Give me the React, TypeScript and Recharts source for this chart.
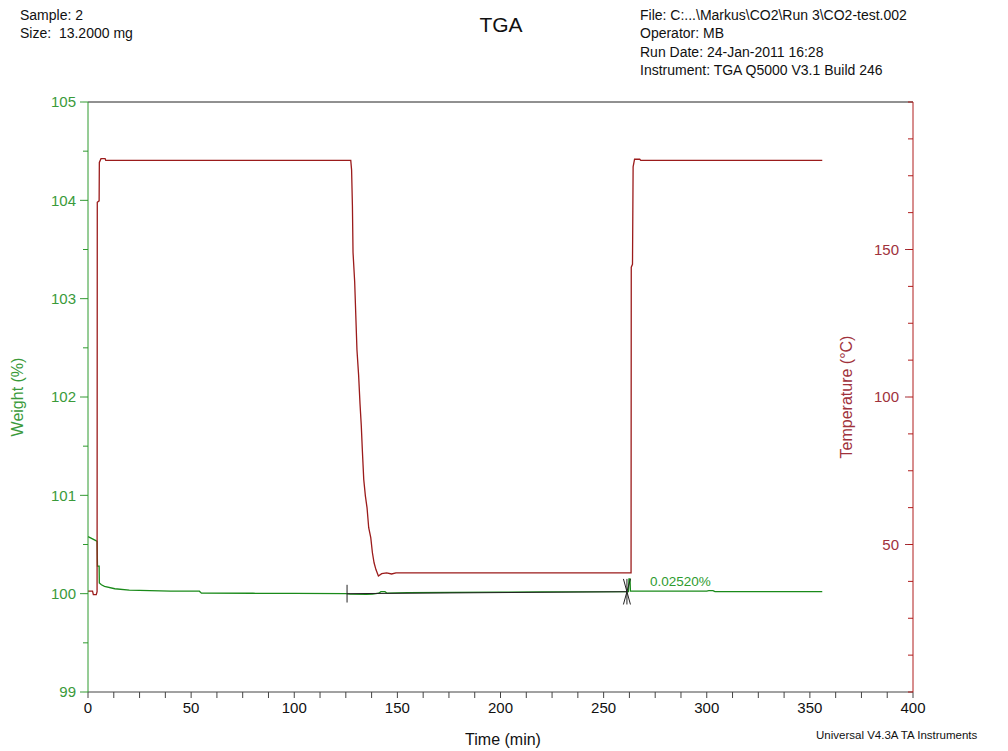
// TGA 측정 결과 — 무게(%) / 온도(°C) vs 시간
import { LineChart, Line, XAxis, YAxis, ReferenceLine } from 'recharts';

// 시간 축 눈금 (min)
const TIME_TICKS = [0, 12.5, 25, 37.5, 50, 62.5, 75, 87.5, 100, 112.5, 125, 137.5, 150, 162.5, 175, 187.5, 200,
  212.5, 225, 237.5, 250, 262.5, 275, 287.5, 300, 312.5, 325, 337.5, 350, 362.5, 375, 387.5, 400];
const TIME_LABELS = [0, 50, 100, 150, 200, 250, 300, 350, 400];

// 무게 축 눈금 (%)
const WEIGHT_TICKS = [99, 99.5, 100, 100.5, 101, 101.5, 102, 102.5, 103, 103.5, 104, 104.5, 105];
const WEIGHT_LABELS = [99, 100, 101, 102, 103, 104, 105];

// 온도 축 눈금 (°C)
const TEMP_TICKS = [0, 12.5, 25, 37.5, 50, 62.5, 75, 87.5, 100, 112.5, 125, 137.5, 150, 162.5, 175, 187.5, 200];
const TEMP_LABELS = [50, 100, 150];

// 온도 곡선
const TEMP_TIME = [0, 2.2, 2.6, 4.0, 4.4, 4.5, 5.4, 5.5, 6.3, 8.3, 8.6, 127.4, 127.8, 128.2, 128.5, 129.3, 129.8,
  130.4, 131.2, 131.9, 132.5, 133.0, 133.7, 134.5, 135.3, 136.1, 137.1, 137.9, 138.7, 139.6, 140.8, 142.4, 144.8,
  147.2, 149.3, 263.3, 263.4, 264.0, 264.3, 265.0, 267.5, 268.0, 356.0];
const TEMP_VALUE = [34.2, 34.2, 33.0, 33.0, 34.0, 166, 166.5, 179.5, 180.8, 180.8, 180.2, 180.2, 177, 165, 149, 139, 128.5,
  116, 107.5, 97.5, 90.3, 82.2, 72, 66.4, 62.4, 55.7, 52.3, 47.2, 43.8, 41.5, 39.3, 40.1, 40.4,
  40.0, 40.4, 40.4, 144, 145, 178, 180.6, 180.6, 180.2, 180.2];

// 무게 곡선
const WEIGHT_TIME = [0, 1, 3.8, 4.4, 4.6, 5.4, 5.5, 6.5, 8, 13, 20, 40, 54, 55, 80, 100, 125, 127, 135, 138,
  141, 142, 144, 145, 155, 200, 220, 262, 262.3, 262.8, 263.0, 300, 301, 303, 304, 356];
const WEIGHT_VALUE = [100.58, 100.57, 100.54, 100.53, 100.28, 100.28, 100.11, 100.09, 100.075, 100.05, 100.035,
  100.025, 100.025, 100.005, 100.004, 100.002, 100.0, 99.995, 99.993, 99.995,
  100.005, 100.02, 100.02, 100.005, 100.01, 100.015, 100.018, 100.02, 100.15, 100.15, 100.025, 100.025, 100.03, 100.03,
  100.02, 100.02];

// 스텝 분석 기준선
const BASELINE_TIME = [125.6, 261.3];
const BASELINE_VALUE = [100.0, 100.02];
const START_MARK = { t: 125.6, lo: 99.91, hi: 100.09 };
const END_MARK = { t: 261.3, half: 1.7, lo: 99.89, hi: 100.15 };

const tempData = TEMP_TIME.map((t, i) => ({ t, c: TEMP_VALUE[i] }));
const weightData = WEIGHT_TIME.map((t, i) => ({ t, w: WEIGHT_VALUE[i] }));
const baselineData = BASELINE_TIME.map((t, i) => ({ t, w: BASELINE_VALUE[i] }));

const GREEN = '#1a8a1a';
const GREEN_TEXT = '#3a9a3a';
const RED = '#9b1b1b';
const RED_TEXT = '#a0323c';
const FONT = '"Liberation Sans", Arial, sans-serif';

const TICK_MARGIN = 7;

// 세로축 눈금: 주 눈금은 라벨 + 긴 눈금선
function makeYTick(labels: number[], color: string, margin: number) {
  return (props: any) => {
    const { x, y, payload } = props;
    const major = labels.includes(payload.value);
    if (!major) return <g />;
    return (
      <g>
        <line x1={x + margin - 3} x2={x + margin} y1={y} y2={y} stroke={color} />
        <text x={x} y={y} dy="0.35em" textAnchor="end" fill={color} fontSize={15} fontFamily={FONT}>
          {payload.value}
        </text>
      </g>
    );
  };
}

function TimeTick(props: any) {
  const { x, y, payload } = props;
  if (!TIME_LABELS.includes(payload.value)) return <g />;
  return (
    <text x={x} y={y} dy="0.75em" textAnchor="middle" fill="#111" fontSize={15} fontFamily={FONT}>
      {payload.value}
    </text>
  );
}

const abs = (left: number, top: number, extra: any = {}) => ({
  position: 'absolute' as const, left, top, whiteSpace: 'pre' as const, fontFamily: FONT, ...extra,
});

export default function App() {
  return (
    <div style={{ position: 'absolute', left: 0, top: 0, width: 1008, height: 751, background: '#fff' }}>
      <LineChart width={1008} height={751} margin={{ top: 102, right: 95, bottom: 29, left: 28 }}>
        <XAxis
          type="number"
          dataKey="t"
          domain={[0, 400]}
          ticks={TIME_TICKS}
          interval={0}
          height={30}
          tickSize={6}
          tickMargin={4}
          stroke="#444"
          tick={<TimeTick />}
        />
        <YAxis
          yAxisId="w"
          type="number"
          domain={[99, 105]}
          ticks={WEIGHT_TICKS}
          interval={0}
          width={60}
          tickSize={5}
          tickMargin={TICK_MARGIN}
          stroke="#2f9a2f"
          tick={makeYTick(WEIGHT_LABELS, GREEN_TEXT, TICK_MARGIN)}
        />
        <YAxis
          yAxisId="c"
          orientation="right"
          mirror
          type="number"
          domain={[0, 200]}
          ticks={TEMP_TICKS}
          interval={0}
          width={40}
          tickSize={5}
          tickMargin={9}
          stroke="#b01c1c"
          tick={makeYTick(TEMP_LABELS, RED_TEXT, 9)}
        />
        {/* 상단 테두리 */}
        <ReferenceLine yAxisId="w" y={105} stroke="#222" />
        <Line yAxisId="w" data={weightData} dataKey="w" type="linear" stroke={GREEN} strokeWidth={1.3}
          dot={false} isAnimationActive={false} />
        <Line yAxisId="c" data={tempData} dataKey="c" type="linear" stroke={RED} strokeWidth={1.3}
          dot={false} isAnimationActive={false} />
        <Line yAxisId="w" data={baselineData} dataKey="w" type="linear" stroke="#222" strokeWidth={1}
          dot={false} isAnimationActive={false} />
        <ReferenceLine yAxisId="w" stroke="#222"
          segment={[{ x: START_MARK.t, y: START_MARK.lo }, { x: START_MARK.t, y: START_MARK.hi }]} />
        <ReferenceLine yAxisId="w" stroke="#222"
          segment={[{ x: END_MARK.t - END_MARK.half, y: END_MARK.hi }, { x: END_MARK.t + END_MARK.half, y: END_MARK.lo }]} />
        <ReferenceLine yAxisId="w" stroke="#222"
          segment={[{ x: END_MARK.t + END_MARK.half, y: END_MARK.hi }, { x: END_MARK.t - END_MARK.half, y: END_MARK.lo }]} />
        <ReferenceLine yAxisId="w" stroke="#222"
          segment={[{ x: END_MARK.t, y: END_MARK.hi }, { x: END_MARK.t, y: END_MARK.lo }]} />
      </LineChart>

      {/* 헤더 */}
      <div style={abs(20, 6, { fontSize: 14, lineHeight: '18px', color: '#111' })}>
        {'Sample: 2\nSize:  13.2000 mg'}
      </div>
      <div style={abs(501, 25, { fontSize: 21, color: '#111', transform: 'translate(-50%, -50%)' })}>TGA</div>
      <div style={abs(640, 6, { fontSize: 14, lineHeight: '18.4px', color: '#111' })}>
        {'File: C:...\\Markus\\CO2\\Run 3\\CO2-test.002\nOperator: MB\nRun Date: 24-Jan-2011 16:28\nInstrument: TGA Q5000 V3.1 Build 246'}
      </div>

      {/* 축 제목 */}
      <div style={abs(18, 397, { fontSize: 16, color: GREEN_TEXT, transform: 'translate(-50%, -50%) rotate(-90deg)' })}>
        Weight (%)
      </div>
      <div style={abs(847, 397, { fontSize: 16, color: RED_TEXT, transform: 'translate(-50%, -50%) rotate(-90deg)' })}>
        Temperature (°C)
      </div>
      <div style={abs(503, 740, { fontSize: 16, color: '#111', transform: 'translate(-50%, -50%)' })}>Time (min)</div>
      <div style={abs(816, 735, { fontSize: 11.5, color: '#111', transform: 'translateY(-50%)' })}>
        Universal V4.3A TA Instruments
      </div>

      {/* 스텝 변화량 */}
      <div style={abs(650, 581, { fontSize: 13.5, color: '#2e9b2e', transform: 'translateY(-50%)' })}>0.02520%</div>
    </div>
  );
}
